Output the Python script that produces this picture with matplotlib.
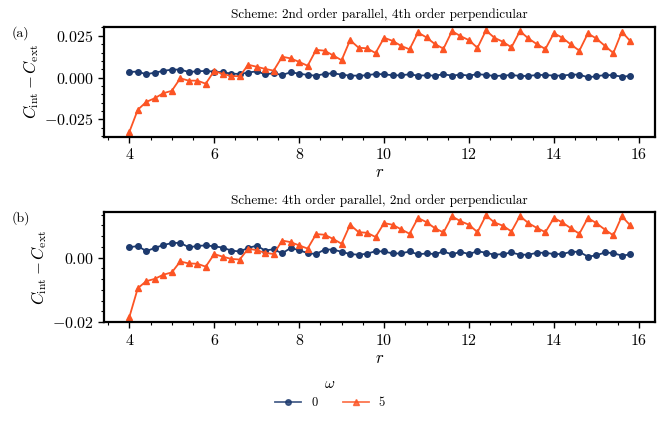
import numpy as np
import matplotlib
matplotlib.use("Agg")
import matplotlib.pyplot as plt
from matplotlib.ticker import AutoMinorLocator, MultipleLocator, FuncFormatter

plt.rcParams.update({
    "font.family": "serif",
    "font.serif": ["cmr10", "DejaVu Serif"],
    "mathtext.fontset": "cm",
    "axes.formatter.use_mathtext": True,
    "axes.unicode_minus": True,
})

# r grid (4.0 ... 15.8, step 0.2)
r = np.round(np.arange(4.0, 15.81, 0.2), 1)

# panel (a): 2nd order parallel, 4th order perpendicular
a_w0 = [0.0034, 0.0036, 0.0020, 0.0030, 0.0040, 0.0048, 0.0048, 0.0034, 0.0038, 0.0040,
        0.0036, 0.0032, 0.0024, 0.0022, 0.0030, 0.0038, 0.0020, 0.0026, 0.0016, 0.0032,
        0.0024, 0.0016, 0.0012, 0.0022, 0.0026, 0.0018, 0.0012, 0.0012, 0.0014, 0.0022,
        0.0020, 0.0014, 0.0014, 0.0020, 0.0012, 0.0014, 0.0012, 0.0020, 0.0012, 0.0018,
        0.0012, 0.0021, 0.0016, 0.0010, 0.0012, 0.0016, 0.0010, 0.0010, 0.0016, 0.0016,
        0.0012, 0.0012, 0.0018, 0.0018, 0.0002, 0.0008, 0.0016, 0.0014, 0.0006, 0.0010]
a_w5 = [-0.0325, -0.0192, -0.0145, -0.0123, -0.0093, -0.0079, -0.0004, -0.0018, -0.0018, -0.0036,
        0.0040, 0.0022, 0.0010, 0.0008, 0.0077, 0.0065, 0.0052, 0.0042, 0.0125, 0.0115,
        0.0094, 0.0071, 0.0166, 0.0161, 0.0133, 0.0104, 0.0224, 0.0179, 0.0175, 0.0147,
        0.0238, 0.0220, 0.0190, 0.0169, 0.0270, 0.0240, 0.0200, 0.0173, 0.0278, 0.0248,
        0.0224, 0.0178, 0.0282, 0.0238, 0.0214, 0.0181, 0.0278, 0.0234, 0.0200, 0.0171,
        0.0266, 0.0238, 0.0198, 0.0161, 0.0264, 0.0234, 0.0190, 0.0147, 0.0274, 0.0218]

# panel (b): 4th order parallel, 2nd order perpendicular
b_w0 = [0.0032, 0.0036, 0.0020, 0.0030, 0.0039, 0.0045, 0.0046, 0.0032, 0.0036, 0.0038,
        0.0035, 0.0031, 0.0022, 0.0019, 0.0030, 0.0037, 0.0022, 0.0026, 0.0013, 0.0030,
        0.0023, 0.0014, 0.0011, 0.0025, 0.0025, 0.0018, 0.0011, 0.0009, 0.0012, 0.0020,
        0.0019, 0.0013, 0.0013, 0.0019, 0.0010, 0.0013, 0.0011, 0.0019, 0.0010, 0.0018,
        0.0011, 0.0020, 0.0015, 0.0009, 0.0011, 0.0016, 0.0009, 0.0009, 0.0015, 0.0015,
        0.0011, 0.0011, 0.0018, 0.0018, 0.0003, 0.0007, 0.0016, 0.0014, 0.0006, 0.0010]
b_w5 = [-0.0185, -0.0095, -0.0073, -0.0066, -0.0053, -0.0046, -0.0012, -0.0018, -0.0019, -0.0028,
        0.0011, 0.0003, -0.0004, -0.0006, 0.0028, 0.0023, 0.0015, 0.0011, 0.0053, 0.0048,
        0.0038, 0.0028, 0.0073, 0.0071, 0.0058, 0.0043, 0.0102, 0.0079, 0.0077, 0.0064,
        0.0107, 0.0102, 0.0088, 0.0074, 0.0123, 0.0110, 0.0091, 0.0078, 0.0128, 0.0113,
        0.0102, 0.0079, 0.0131, 0.0109, 0.0099, 0.0081, 0.0129, 0.0107, 0.0092, 0.0079,
        0.0123, 0.0109, 0.0091, 0.0074, 0.0123, 0.0107, 0.0087, 0.0069, 0.0128, 0.0100]

omegas = ["0", "5"]
titles = ["Scheme: 2nd order parallel, 4th order perpendicular",
          "Scheme: 4th order parallel, 2nd order perpendicular"]
tags = ["(a)", "(b)"]

NAVY = "#1d3a6e"
ORANGE = "#fc5424"


def tex_fmt(nd):
    return FuncFormatter(lambda v, pos: f"${v:.{nd}f}$")


fig = plt.figure(figsize=(6.64, 4.22), dpi=100)
ax_a = fig.add_axes([0.157, 0.676, 0.830, 0.261])
ax_b = fig.add_axes([0.157, 0.236, 0.830, 0.262])

panels = [(ax_a, a_w0, a_w5, 0.025, 5, 3), (ax_b, b_w0, b_w5, 0.02, 6, 2)]
for i, (ax, w0, w5, ystep, nminor, nd) in enumerate(panels):
    ax.plot(r, w0, "-o", color=NAVY, lw=1.3, ms=4, label=omegas[0])
    ax.plot(r, w5, "-^", color=ORANGE, lw=1.3, ms=4.5, label=omegas[1])
    ax.set_title(titles[i], fontsize=9.5, pad=6)
    ax.set_xlabel(r"$r$", fontsize=12, labelpad=2)
    ax.set_ylabel(r"$C_{\rm int} - C_{\rm ext}$", fontsize=12, labelpad=2)
    ax.xaxis.set_major_locator(MultipleLocator(2))
    ax.xaxis.set_minor_locator(AutoMinorLocator(4))
    ax.yaxis.set_major_locator(MultipleLocator(ystep))
    ax.yaxis.set_minor_locator(AutoMinorLocator(nminor))
    ax.yaxis.set_major_formatter(tex_fmt(nd))
    ax.xaxis.set_major_formatter(tex_fmt(0))
    ax.tick_params(which="major", labelsize=11.5, length=4, width=1, direction="out")
    ax.tick_params(which="minor", length=2.5, width=0.8, direction="out")
    for s in ax.spines.values():
        s.set_linewidth(1.6)
    fig.text(0.018, 1 - (33 if i == 0 else 218) / 422, tags[i], fontsize=10,
             va="center", ha="left")

ax_a.set_ylim(-0.0353, 0.0305)
ax_b.set_ylim(-0.0201, 0.0142)
for ax in (ax_a, ax_b):
    ax.set_xlim(3.41, 16.39)

handles, labels = ax_a.get_legend_handles_labels()
leg = fig.legend(handles, labels, title=r"$\omega$", loc="center",
                 bbox_to_anchor=(0.497, 0.068), ncol=2, frameon=False,
                 fontsize=9, title_fontsize=11, handlelength=2.1, columnspacing=2.0)
for h in leg.legend_handles:
    h.set_alpha(0.8)

fig.savefig("out.png", dpi=100)
